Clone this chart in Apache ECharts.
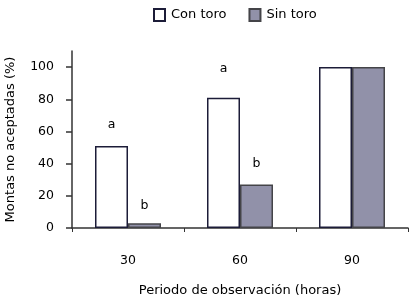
<!DOCTYPE html>
<html>
<head>
<meta charset="utf-8">
<script src="https://cdn.jsdelivr.net/npm/echarts@6/dist/echarts.min.js"></script>
<style>
  html, body { margin: 0; padding: 0; background: #fff; }
  #chart { width: 414px; height: 300px; }
</style>
</head>
<body>
<div id="chart"></div>
<script>
// Periods of observation (hours)
const periods = ['30', '60', '90'];
const conToro = [51, 81, 100];
const sinToro = [3, 27, 100];
const conLabels = ['a', 'a', ''];
const sinLabels = ['b', 'b', ''];
const yTicks = [0, 20, 40, 60, 80, 100];

const font = 'DejaVu Sans';

// letter placement above each bar, as in the original figure
const conLabelGap = [15, 22, 0];
const sinLabelGap = [11, 14, 0];

const labelStyle = { show: true, position: 'top', fontFamily: font, fontSize: 12.5, color: '#000' };

const toItems = (values, letters, gaps) => values.map((v, i) => ({
  value: v,
  label: Object.assign({}, labelStyle, { distance: gaps[i], formatter: letters[i] })
}));

const chart = echarts.init(document.getElementById('chart'));

chart.setOption({
  animation: false,
  backgroundColor: '#fff',
  textStyle: { fontFamily: font },
  legend: {
    top: 3,
    left: 148,
    icon: 'rect',
    itemWidth: 11,
    itemHeight: 12,
    itemGap: 22,
    textStyle: { fontFamily: font, fontSize: 13, color: '#000', padding: [0, 0, 0, 1] },
    data: ['Con toro', 'Sin toro']
  },
  grid: { left: 72, right: 6, top: 51, bottom: 72, outerBoundsMode: 'none', containLabel: false },
  xAxis: {
    type: 'category',
    data: periods,
    name: 'Periodo de observación (horas)',
    nameLocation: 'middle',
    nameGap: 56,
    nameTextStyle: { fontFamily: font, fontSize: 13, color: '#000' },
    axisLine: { lineStyle: { color: '#333', width: 1.5 } },
    axisTick: { show: true, length: 4, lineStyle: { color: '#333' } },
    axisLabel: { margin: 26, fontFamily: font, fontSize: 12.5, color: '#000' }
  },
  yAxis: {
    type: 'value',
    min: 0,
    max: 110,
    interval: 20,
    name: 'Montas no aceptadas (%)',
    nameLocation: 'middle',
    nameGap: 55,
    nameTextStyle: { fontFamily: font, fontSize: 13, color: '#000' },
    axisLine: { show: true, lineStyle: { color: '#333', width: 1.5 } },
    axisTick: { show: true, length: 6, lineStyle: { color: '#333', width: 1.5 }, customValues: yTicks },
    axisLabel: { margin: 18, fontFamily: font, fontSize: 12.5, color: '#000', customValues: yTicks },
    splitLine: { show: false }
  },
  series: [
    {
      name: 'Con toro',
      type: 'bar',
      data: toItems(conToro, conLabels, conLabelGap),
      barWidth: 33,
      barGap: 0,
      itemStyle: { color: '#ffffff', borderColor: '#1c1c38', borderWidth: 1.5 }
    },
    {
      name: 'Sin toro',
      type: 'bar',
      data: toItems(sinToro, sinLabels, sinLabelGap),
      barWidth: 33,
      barGap: 0,
      itemStyle: { color: '#9191a9', borderColor: '#444448', borderWidth: 1.5 }
    }
  ]
});
</script>
</body>
</html>
